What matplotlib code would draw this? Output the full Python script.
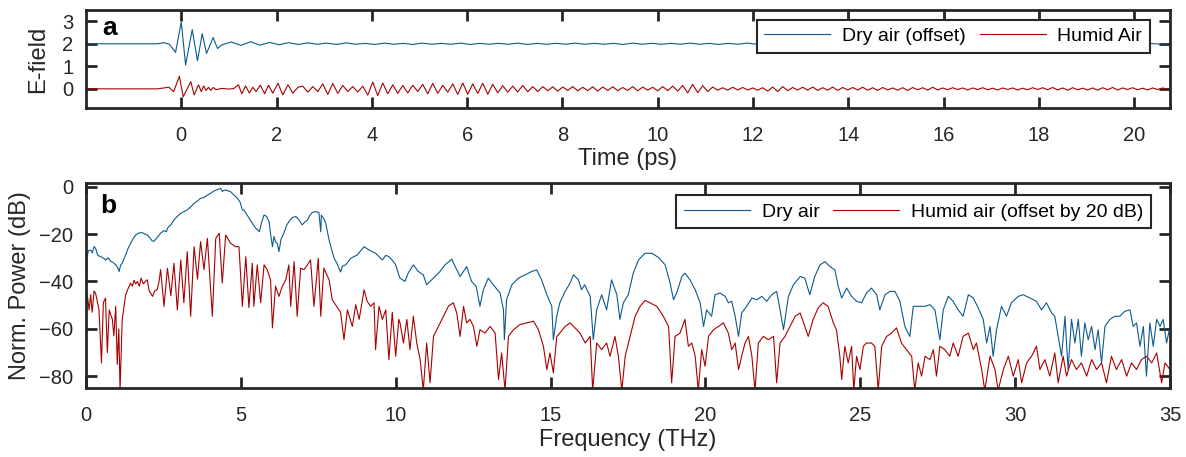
import numpy as np
import matplotlib
matplotlib.use("Agg")
import matplotlib.pyplot as plt

plt.rcParams['font.family'] = ['Liberation Sans', 'DejaVu Sans']

blue = "#0d5a8e"
red = "#a80000"
dark = "#262626"

# ---- panel a: time-domain E-field ----
# main pulse, explicit turning points
t_dry_pulse = [-2.0, -0.5, -0.37, -0.25, -0.12, 0.0, 0.09, 0.23, 0.34, 0.44, 0.53, 0.67, 0.76]
e_dry_pulse = [2.0, 2.0, 2.05, 1.98, 1.62, 2.97, 1.06, 2.63, 1.25, 2.45, 1.57, 2.28, 1.79]

# ringing after the pulse (dry air, offset 2), evenly sampled from 0.85 ps to 20.7 ps
e_dry_tail = [1.95, 2.08, 1.93, 2.09, 1.94, 2.06, 1.96, 2.05, 1.97, 2.04,
              1.98, 2.03, 1.97, 2.04, 1.98, 2.02, 1.97, 2.03, 1.98, 2.02,
              1.97, 2.03, 1.98, 2.02, 1.98, 2.03, 1.97, 2.02, 1.98, 2.02,
              1.98, 2.03, 1.97, 2.02, 1.98, 2.02, 1.98, 2.03, 1.98, 2.02,
              1.98, 2.02, 1.97, 2.03, 1.98, 2.02, 1.98, 2.02, 1.98, 2.03,
              1.98, 2.02, 1.97, 2.02, 1.98, 2.03, 1.98, 2.02, 1.98, 2.02,
              1.98, 2.03, 1.98, 2.02, 1.98, 2.02, 1.97, 2.02, 1.98, 2.02,
              1.98, 2.03, 1.98, 2.02, 1.98, 2.02, 1.98, 2.02, 1.98, 2.03,
              1.98, 2.02, 1.98, 2.02, 1.98, 2.02, 1.97, 2.02, 1.98, 2.02,
              1.98, 2.02, 1.98, 2.03, 1.98, 2.02, 1.98, 2.02, 1.99, 2.0]

t_hum_pulse = [-2.0, -0.5, -0.26, -0.16, -0.04, 0.04, 0.12, 0.2, 0.27, 0.36,
               0.42, 0.47, 0.52, 0.57, 0.62, 0.67, 0.73, 0.85, 1.0, 1.1,
               1.2, 1.27, 1.35, 1.43, 1.5, 1.57, 1.66, 1.75, 1.83, 1.92,
               2.03, 2.13, 2.24, 2.34, 2.45]
e_hum_pulse = [0, 0, 0.07, -0.12, 0.56, -0.35, -0.02, 0.32, -0.27, 0.18,
               -0.12, 0.13, -0.07, 0.07, -0.07, 0.06, -0.04, 0.02, -0.01, 0.01,
               0.18, -0.22, 0.13, -0.19, 0.07, -0.12, 0.16, -0.22, 0.16, -0.19,
               0.25, -0.27, 0.18, -0.19, 0.07]

# humid air ringing, evenly sampled from 2.55 ps to 20.7 ps
e_hum_tail = [0.12, -0.15, 0.1, -0.12,
              0.22, -0.25, 0.24, -0.2, 0.15,
              -0.12, 0.1, -0.14, 0.12,
              -0.28, 0.3, -0.3, 0.26, -0.22,
              0.18, -0.2, 0.15, -0.18, 0.16, -0.12,
              0.2, -0.22, 0.24, -0.2, 0.16, -0.15,
              0.22, -0.25, 0.26, -0.24, 0.22, -0.2, 0.25, -0.24, 0.2, -0.18,
              0.14, -0.15, 0.12, -0.14, 0.15, -0.13, 0.1, -0.12,
              0.1, -0.08, 0.09, -0.1, 0.08, -0.07, 0.1, -0.09, 0.07, -0.08, 0.09, -0.1,
              0.08, -0.07, 0.09, -0.08, 0.06, -0.07, 0.1, -0.09, 0.08, -0.06, 0.07, -0.09, 0.1, -0.08, 0.12, -0.1,
              0.15, -0.18, 0.2, -0.17, 0.14, -0.12, 0.08,
              -0.06, 0.05, -0.06, 0.07, -0.05, 0.06, -0.05, 0.04, -0.06, 0.05,
              -0.1, 0.08, -0.12, 0.1, -0.08, 0.06,
              -0.05, 0.07, -0.06, 0.08, -0.07, 0.05, -0.06, 0.08, -0.07, 0.06, -0.05,
              0.06, -0.05, 0.07, -0.06, 0.05, -0.07, 0.06, -0.05, 0.04, -0.06, 0.05, -0.07, 0.06, -0.04, 0.05, -0.06, 0.07, -0.05, 0.04,
              -0.04, 0.05, -0.03, 0.04, -0.05, 0.04, -0.03, 0.05, -0.04, 0.03, -0.05, 0.04, -0.03, 0.04, -0.05, 0.03, -0.04, 0.05, -0.03,
              0.05, -0.04, 0.06, -0.05, 0.04, -0.06, 0.05, -0.04, 0.03, -0.05, 0.04, -0.06, 0.05, -0.04, 0.06, -0.05, 0.04, -0.03, 0.05, -0.04, 0.03, -0.05, 0.04, -0.03, 0.04, -0.02]

# ---- panel b: spectra in dB ----
f_dry = [0.0, 0.03, 0.08, 0.15, 0.2, 0.26, 0.31, 0.38, 0.47, 0.55, 0.64, 0.72, 0.8, 0.88, 0.96, 1.02, 1.07, 1.12, 1.17, 1.28,
         1.36, 1.44, 1.52, 1.6, 1.71, 1.82, 1.9, 1.98, 2.06, 2.14, 2.2, 2.25, 2.33, 2.41, 2.52, 2.6, 2.63, 2.74, 2.84, 2.95,
         3.06, 3.16, 3.27, 3.38, 3.49, 3.6, 3.7, 3.81, 3.92, 4.02, 4.13, 4.24, 4.35, 4.4, 4.46, 4.56, 4.67, 4.78, 4.89, 4.97,
         5.05, 5.1, 5.23, 5.37, 5.48, 5.6, 5.67, 5.75, 5.83, 5.91, 5.96, 6.02, 6.07, 6.12, 6.18, 6.23, 6.3, 6.39, 6.47, 6.55,
         6.66, 6.77, 6.88, 6.98, 7.06, 7.15, 7.23, 7.31, 7.42, 7.52, 7.58, 7.6, 7.68, 7.74, 7.85, 7.93, 8.01, 8.09, 8.17, 8.22,
         8.28, 8.38, 8.47, 8.55, 8.65, 8.76, 8.87, 8.98, 9.06, 9.14, 9.25, 9.35, 9.46, 9.57, 9.68, 9.78, 9.89, 10.0, 10.1,
         10.14, 10.3, 10.4, 10.57, 10.73, 10.89, 11.0, 11.11, 11.27, 11.43, 11.59, 11.81, 11.92, 12.08, 12.29, 12.45, 12.6, 12.72, 12.83,
         12.99, 13.15, 13.37, 13.48, 13.51, 13.58, 13.75, 13.96, 14.18, 14.39, 14.55, 14.71, 14.88, 15.04, 15.09, 15.2, 15.3, 15.47, 15.63,
         15.74, 15.9, 16.0, 16.1, 16.28, 16.38, 16.49, 16.65, 16.81, 16.97, 17.14, 17.24, 17.35, 17.51, 17.67, 17.84, 18.05, 18.27,
         18.48, 18.7, 18.86, 18.97, 19.07, 19.24, 19.34, 19.5, 19.67, 19.83, 19.94, 20.04, 20.2, 20.31, 20.47, 20.64, 20.74, 20.85,
         20.96, 21.07, 21.17, 21.33, 21.5, 21.66, 21.82, 21.98, 22.14, 22.3, 22.41, 22.52, 22.68, 22.84, 23.06, 23.21, 23.37, 23.53,
         23.7, 23.86, 24.02, 24.18, 24.29, 24.4, 24.56, 24.72, 24.88, 25.04, 25.2, 25.36, 25.53, 25.63, 25.8, 25.96, 26.12, 26.28,
         26.44, 26.6, 26.71, 26.87, 27.09, 27.25, 27.41, 27.57, 27.68, 27.84, 28.0, 28.16, 28.32, 28.49, 28.65, 28.81, 28.97, 29.08,
         29.19, 29.29, 29.4, 29.56, 29.72, 29.88, 30.1, 30.26, 30.48, 30.69, 30.85, 31.01, 31.18, 31.28, 31.39, 31.5, 31.61, 31.71,
         31.82, 31.93, 32.04, 32.14, 32.25, 32.36, 32.47, 32.58, 32.68, 32.79, 32.9, 33.06, 33.22, 33.38, 33.54, 33.71, 33.81, 33.92,
         34.03, 34.14, 34.24, 34.35, 34.46, 34.57, 34.68, 34.78, 34.89, 35.0]
p_dry = [-61, -30, -27, -26.7, -28, -25.3, -26, -29, -29.5, -30, -31, -30, -31.6, -32, -33, -34, -35.8, -33, -32.3, -28.8,
         -26, -23.9, -22, -20.4, -19.5, -19.4, -20, -20.4, -21.5, -22.9, -23, -22.2, -21, -19.6, -18.5, -19, -17.5, -16, -14, -12.5,
         -11.2, -10.5, -9.8, -8.5, -7, -6, -4.9, -4.5, -3.5, -2.8, -1.8, -1.2, -0.7, -2, -1.4, -1.6, -2.1, -3.5, -4.9, -6.3,
         -9.8, -9.8, -12.5, -15.4, -17.5, -19, -15, -11.9, -12.5, -14.7, -20, -25.3, -21, -23.2, -24, -27.4, -22, -19.6, -16.5, -14.7,
         -13, -12.6, -14, -16.1, -15, -14, -12, -10.8, -10.5, -10.9, -19, -12, -13.5, -15.4, -22.5, -26.5, -30.2, -32, -34.4, -36,
         -33.5, -33, -31.5, -30.2, -29.5, -28.8, -27, -25.3, -26, -26.7, -27.5, -28.1, -29.5, -30.9, -29, -29.5, -31, -33, -37.2,
         -38.6, -40, -36.5, -33, -35.8, -37.2, -41.4, -40, -37.9, -35.8, -33, -30.6, -33.7, -37.9, -33.7, -40, -42.1, -50.5, -43.5,
         -38.6, -41.4, -44.9, -52, -64.6, -47.7, -41.4, -38.6, -37.2, -35.8, -35.1, -39.3, -45.6, -50.5, -64.6, -54.7, -49, -44.2, -40.7,
         -37.2, -39.3, -43.5, -41.4, -46.3, -64.6, -52, -45.6, -52, -39.3, -45.6, -56, -49, -45.6, -36.5, -30.9, -28.1, -28.1,
         -29.8, -33, -40.7, -47.7, -44.9, -37.9, -36.5, -39.3, -43.5, -49, -59, -52, -54.7, -45.6, -44.9, -46.3, -49, -48.4,
         -54.7, -63.2, -53.3, -50.5, -47, -47.7, -46.3, -48.4, -45.6, -44.2, -52, -60.4, -46.3, -41.4, -37.9, -38.6, -45.6, -37.9,
         -33, -31.6, -33.7, -35.1, -42.1, -47, -42.8, -46.3, -48.4, -49, -44.9, -42.8, -45.6, -52, -45.6, -44.2, -44.2, -48.4,
         -59, -63.2, -50.5, -50.5, -50.5, -49.8, -52, -64.6, -52, -46.3, -48.4, -52, -54.7, -45.6, -47, -51.2, -56, -66,
         -59, -71.6, -60.4, -50.5, -54.7, -49, -46.3, -45.6, -47, -48.4, -52, -49, -53.3, -54.7, -63.2, -71.6, -54.7, -77.2,
         -56, -66, -56, -71.6, -57.5, -64.6, -59, -68.8, -60.4, -74.4, -59, -56, -54.7, -54.7, -52.6, -52, -59, -57.5,
         -67.4, -59, -80, -57.5, -67.4, -56, -59, -56, -66, -59]

f_hum = [0.0, 0.04, 0.1, 0.15, 0.2, 0.26, 0.31, 0.36, 0.42, 0.5, 0.56, 0.63, 0.69, 0.75, 0.85, 0.9, 0.96, 1.01, 1.06, 1.1,
         1.17, 1.28, 1.36, 1.44, 1.5, 1.55, 1.6, 1.66, 1.72, 1.78, 1.85, 1.92, 1.98, 2.04, 2.09, 2.15, 2.22, 2.3, 2.36, 2.41,
         2.52, 2.63, 2.74, 2.84, 2.95, 3.06, 3.16, 3.27, 3.38, 3.49, 3.6, 3.7, 3.81, 3.92, 4.08, 4.19, 4.3, 4.4, 4.51, 4.67,
         4.83, 4.94, 5.05, 5.16, 5.26, 5.37, 5.42, 5.53, 5.64, 5.75, 5.85, 5.96, 6.02, 6.12, 6.23, 6.34, 6.45, 6.55, 6.61, 6.72,
         6.82, 6.93, 7.04, 7.15, 7.25, 7.36, 7.5, 7.58, 7.68, 7.85, 7.95, 8.12, 8.22, 8.33, 8.44, 8.6, 8.71, 8.82, 8.98, 9.08,
         9.19, 9.3, 9.35, 9.46, 9.57, 9.68, 9.78, 9.89, 10.0, 10.1,
         10.14, 10.25, 10.36, 10.46, 10.57, 10.68, 10.79, 10.89, 11.0, 11.11, 11.22, 11.38, 11.54, 11.7, 11.86, 11.97, 12.08, 12.19, 12.29, 12.4,
         12.51, 12.62, 12.72, 12.88, 13.05, 13.21, 13.32, 13.42, 13.53, 13.64, 13.8, 14.01, 14.23, 14.45, 14.61, 14.77, 14.88, 14.98, 15.09, 15.2,
         15.3, 15.47, 15.63, 15.79, 15.95, 16.12, 16.28, 16.36, 16.49, 16.65, 16.81, 16.92, 17.08, 17.19, 17.3, 17.41, 17.57, 17.73, 17.89, 18.05,
         18.21, 18.43, 18.64, 18.81, 18.91, 19.02, 19.18, 19.34, 19.45, 19.56, 19.67, 19.77, 19.88, 19.99, 20.1, 20.26, 20.42, 20.58, 20.74, 20.85,
         20.96, 21.07, 21.17, 21.28, 21.39, 21.5, 21.6, 21.71, 21.87, 22.03, 22.2, 22.3, 22.41, 22.57, 22.73, 22.9, 23.06, 23.21, 23.32, 23.48,
         23.64, 23.8, 23.96, 24.13, 24.23, 24.34, 24.4, 24.5, 24.61, 24.72, 24.79, 24.88, 24.99, 25.1, 25.2, 25.36, 25.47, 25.58, 25.69, 25.85,
         26.01, 26.17, 26.33, 26.49, 26.66, 26.76, 26.87, 26.98, 27.09, 27.25, 27.36, 27.46, 27.57, 27.73, 27.89, 28.0, 28.16, 28.32, 28.49, 28.65,
         28.75, 28.92, 29.02, 29.19, 29.35, 29.45, 29.62, 29.78, 29.94, 30.1, 30.21, 30.37, 30.53, 30.69, 30.8, 30.96, 31.12, 31.28, 31.39, 31.55,
         31.66, 31.82, 31.98, 32.14, 32.31, 32.47, 32.63, 32.79, 32.95, 33.11, 33.27, 33.44, 33.6, 33.76, 33.92, 34.08, 34.24, 34.41, 34.57, 34.73,
         34.84, 35.0]
p_hum = [-56, -45.5, -52, -45.6, -53, -44, -45, -48, -52, -74.4, -49, -47, -70, -52, -56, -63, -50.5, -75, -60, -86,
         -56, -45.6, -43, -40.7, -42, -39.5, -41, -40, -42, -38.6, -41, -40, -39.3, -44, -45, -46.3, -44, -43.5, -40, -35,
         -50.5, -34.4, -46, -32.3, -52, -30.9, -49, -27.4, -54.7, -25.3, -39, -23.2, -35, -21.8, -54.7, -21.8, -19.6, -40.7, -20.4, -23.9,
         -25.3, -25.3, -50.5, -29.5, -51, -32.3, -50.5, -33, -49, -33, -35, -39.3, -59.6, -42, -46.3, -42, -39.3, -33, -50.5, -31.6,
         -54.7, -34.4, -35, -33, -30.9, -50.5, -30.2, -54.7, -34.4, -39.3, -47.7, -51, -53, -64.6, -52, -59, -49.8, -56, -43.5, -48.4,
         -50.5, -49, -68.8, -50.5, -56, -52, -73, -53, -71.6, -56,
         -57.5, -66, -56, -68.8, -54.7, -66, -73, -86, -66, -82.8, -63.2, -59, -54.7, -50.5, -49, -53.3, -63.2, -50.5, -57.5, -56,
         -59, -67.4, -60.4, -61.8, -59, -61.8, -81.4, -70.2, -86, -63.2, -60.4, -58.2, -57.5, -56.8, -60.4, -67.4, -77.2, -70.2, -78.6, -63.2,
         -61.8, -59, -57.5, -59.6, -61.8, -66, -63.2, -86, -66, -68.8, -66, -71.6, -63.2, -71.6, -86, -71.6, -63.2, -54.7, -50.5, -48,
         -49, -50.5, -54.7, -59, -82.8, -63.2, -61.8, -56, -67.4, -66, -71.6, -86, -68.8, -75.8, -63.2, -60.4, -59, -57.5, -61.8, -68.8,
         -66, -77.2, -71.6, -66, -63.2, -71.6, -86, -66, -63.2, -64.6, -63.2, -82.8, -66, -63.2, -59, -54.7, -53.3, -59, -63.2, -56,
         -51.2, -49, -50.5, -57.5, -60.4, -71.6, -81.4, -67.4, -74.4, -67.4, -86, -71.6, -77.2, -67.4, -66, -66, -67.4, -86, -67.4, -63.2,
         -61.8, -59.6, -66, -68.8, -71.6, -86, -74.4, -80, -71.6, -73, -68.8, -80, -67.4, -68.8, -71.6, -66, -71.6, -63.2, -61.8, -68.8,
         -66, -77.2, -86, -71.6, -77.2, -86, -77.2, -71.6, -80, -73, -82.8, -74.4, -71.6, -67.4, -77.2, -73, -80, -70.2, -82.8, -71.6,
         -80, -73, -77.2, -74.4, -80, -73, -77.2, -74.4, -82.8, -71.6, -77.2, -73, -80, -74.4, -77.2, -73, -71.6, -74.4, -70.2, -82.8,
         -74.4, -77.2]

t_dry = np.concatenate([t_dry_pulse, np.linspace(0.85, 20.7, len(e_dry_tail))])
e_dry = np.concatenate([e_dry_pulse, e_dry_tail])
t_hum = np.concatenate([t_hum_pulse, np.linspace(2.55, 20.7, len(e_hum_tail))])
e_hum = np.concatenate([e_hum_pulse, e_hum_tail])

fig = plt.figure(figsize=(11.86, 4.57), dpi=100)
ax1 = fig.add_axes([0.0725, 0.7637, 0.914, 0.2144])
ax2 = fig.add_axes([0.0725, 0.151, 0.914, 0.4486])

for ax in (ax1, ax2):
    for s in ax.spines.values():
        s.set_linewidth(2.0)
        s.set_color(dark)
    ax.tick_params(direction="in", length=8, width=2.0, top=True, right=True,
                   labelsize=14.5, colors=dark, pad=9)
    ax.tick_params(axis="x", pad=13)

ax1.plot(t_dry, e_dry, color=blue, lw=0.8, label="Dry air (offset)")
ax1.plot(t_hum, e_hum, color=red, lw=0.8, label="Humid Air")
ax1.set_xlim(-2, 20.75)
ax1.set_ylim(-0.85, 3.5)
ax1.set_xticks(range(0, 21, 2))
ax1.set_yticks([0, 1, 2, 3])
ax1.set_xlabel("Time (ps)", fontsize=17, color=dark, labelpad=2)
ax1.set_ylabel("E-field", fontsize=17, color=dark)
ax1.yaxis.set_label_coords(-0.034, 0.5)
ax1.text(0.015, 0.745, "a", transform=ax1.transAxes, fontsize=19, fontweight="bold", va="baseline")
leg1 = ax1.legend(loc="upper right", bbox_to_anchor=(0.9815, 0.9), borderaxespad=0, ncol=2,
                  fontsize=14, fancybox=False, edgecolor=dark, handlelength=3.4,
                  columnspacing=0.7, handletextpad=0.6, borderpad=0.4, framealpha=1)
leg1.get_frame().set_linewidth(1.5)

ax2.plot(f_dry, p_dry, color=blue, lw=0.8, label="Dry air")
ax2.plot(f_hum, p_hum, color=red, lw=0.8, label="Humid air (offset by 20 dB)")
ax2.set_xlim(0, 35)
ax2.set_ylim(-85, 1.6)
ax2.set_xticks(range(0, 36, 5))
ax2.set_yticks([-80, -60, -40, -20, 0])
ax2.set_xlabel("Frequency (THz)", fontsize=17, color=dark, labelpad=3)
ax2.set_ylabel("Norm. Power (dB)", fontsize=17, color=dark)
ax2.yaxis.set_label_coords(-0.0507, 0.5)
ax2.text(0.013, 0.854, "b", transform=ax2.transAxes, fontsize=19, fontweight="bold", va="baseline")
leg2 = ax2.legend(loc="upper right", bbox_to_anchor=(0.9825, 0.94), borderaxespad=0, ncol=2,
                  fontsize=14, fancybox=False, edgecolor=dark, handlelength=3.4,
                  columnspacing=0.7, handletextpad=0.6, borderpad=0.4, framealpha=1)
leg2.get_frame().set_linewidth(1.5)

fig.savefig("out.png", dpi=100)
